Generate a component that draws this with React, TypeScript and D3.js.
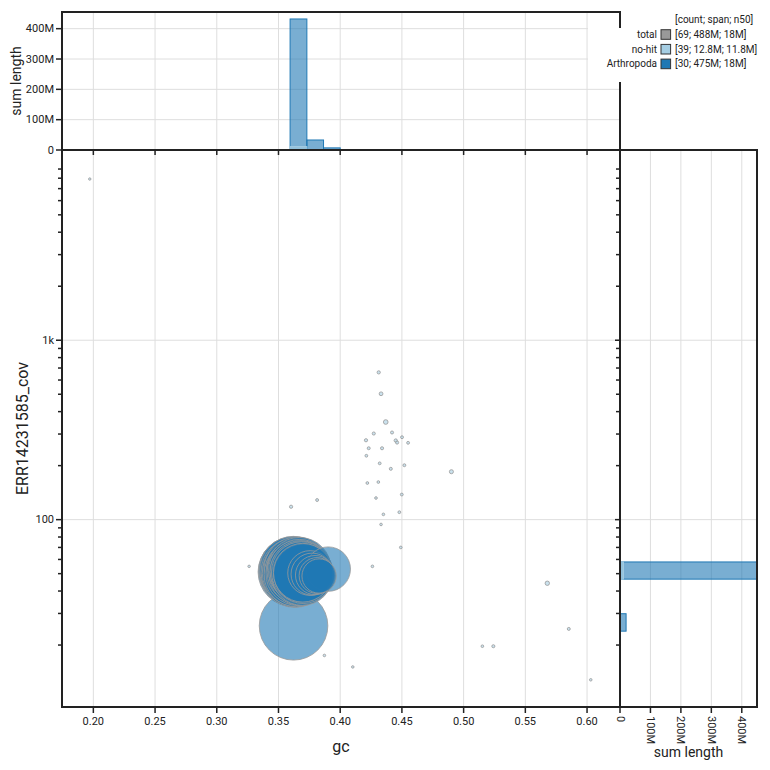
import React from "react";
import * as d3 from "d3";

const FONT = "Roboto, 'Noto Sans', sans-serif";

// Arthropoda contigs: gc, coverage, length (Mb)
const arthropodaGc = [
  0.3614, 0.3617, 0.3625, 0.3621, 0.3633, 0.3629, 0.3641, 0.3636, 0.3648, 0.3652, 0.3645, 0.3661,
  0.3657, 0.3669, 0.3664, 0.3678, 0.3672, 0.3684, 0.3681, 0.3693, 0.3688, 0.3702, 0.3697,
  0.3756, 0.3772, 0.3796, 0.3813, 0.3829, 0.3903, 0.3622,
];
const arthropodaCov = [
  51.1, 51.8, 50.6, 52.3, 49.9, 51.2, 51.5, 50.3, 52.6, 50.8, 49.5, 51.6,
  50.1, 52.9, 51.0, 49.8, 52.0, 50.7, 51.4, 49.2, 51.1, 50.0, 50.6,
  50.4, 49.7, 49.1, 48.8, 48.5, 53.0, 25.6,
];
const arthropodaLen = [
  20.2, 19.9, 19.7, 19.4, 19.2, 19.0, 18.7, 18.5, 18.3, 18.1, 17.8, 17.6,
  17.4, 17.2, 17.0, 16.8, 16.5, 16.3, 16.1, 15.8, 15.5, 15.1, 14.7,
  8.5, 7.5, 6.5, 5.5, 5.0, 8.4, 20.0,
];

// no-hit contigs: gc, coverage, length (Mb)
const noHitGc = [
  0.366, 0.4312, 0.4331, 0.4369, 0.4272, 0.442, 0.4209, 0.4501, 0.445, 0.4461, 0.455, 0.4231,
  0.4339, 0.4212, 0.432, 0.441, 0.452, 0.4901, 0.422, 0.4309, 0.429, 0.4499, 0.435, 0.4479,
  0.4331, 0.4491, 0.1971, 0.3602, 0.3813, 0.3262, 0.4261, 0.3872, 0.4102, 0.5678, 0.5152,
  0.5241, 0.5852, 0.603, 0.372,
];
const noHitCov = [
  51.0, 662, 503, 350, 302, 306, 277, 288, 276, 269, 268, 250,
  250, 227, 206, 192, 201, 185, 160, 162, 132, 138, 107, 110,
  94, 70, 7916, 118, 128.6, 54.9, 54.9, 17.5, 15.1, 44.2, 19.7,
  19.7, 24.6, 12.8, 50.0,
];
const noHitLen = [
  11.0, 0.045, 0.061, 0.092, 0.042, 0.04, 0.044, 0.036, 0.047, 0.043, 0.035, 0.038,
  0.041, 0.033, 0.034, 0.039, 0.036, 0.07, 0.032, 0.031, 0.03, 0.035, 0.03, 0.033,
  0.029, 0.031, 0.025, 0.044, 0.036, 0.027, 0.03, 0.028, 0.027, 0.082, 0.03,
  0.04, 0.038, 0.028, 0.03,
];

// gc histogram (sum length, Mb)
const gcBinEdges = [0.3594, 0.373, 0.3865, 0.4];
const arthropodaGcSum = [432, 33, 7];
const noHitGcSum = [11, 0, 0];

// coverage histogram (sum length, Mb)
const covBinLo = [23.9, 46.6];
const covBinHi = [29.9, 58.1];
const arthropodaCovSum = [20, 455];
const noHitCovSum = [0, 11];

const legendLabels = ["total", "no-hit", "Arthropoda"];
const legendStats = ["[69; 488M; 18M]", "[39; 12.8M; 11.8M]", "[30; 475M; 18M]"];
const legendColors = ["#999999", "#a6cee3", "#1f78b4"];

const histTicks = [0, 100, 200, 300, 400];

export default function App() {
  const L = 62, R = 620, T = 150, B = 707;
  const histTop = 12, sideRight = 757;

  const x = d3.scaleLinear().domain([0.1746, 0.6267]).range([L, R]);
  const y = d3.scaleLog().domain([9.03, 11490]).range([B, T]);
  const hy = d3.scaleLinear().domain([0, 455]).range([T, histTop]);
  const hx = d3.scaleLinear().domain([0, 450]).range([R, sideRight]);
  const rad = d3.scaleSqrt().domain([0, 20]).range([0, 34.3]);

  const xTicks = x.ticks(10);
  const yTicks = y.ticks().filter((v) => y(v) > T + 12 && y(v) < B - 12);
  const isMajor = (v: number) => Math.abs(Math.log10(v) - Math.round(Math.log10(v))) < 1e-9;
  const fmtCov = d3.format("~s");

  const noHit = noHitGc
    .map((gc, i) => ({ gc, cov: noHitCov[i], len: noHitLen[i] }))
    .sort((a, b) => b.len - a.len);
  const arthropoda = arthropodaGc
    .map((gc, i) => ({ gc, cov: arthropodaCov[i], len: arthropodaLen[i] }))
    .sort((a, b) => b.len - a.len);

  const frame = "#222";
  const grid = "#dedede";

  return (
    <svg width={770} height={770} style={{ position: "fixed", left: 0, top: 0 }} fontFamily={FONT}>
      <defs>
        <clipPath id="side-clip">
          <rect x={R} y={T} width={sideRight - R} height={B - T} />
        </clipPath>
      </defs>
      <rect width={770} height={770} fill="#fff" />

      {/* grid lines */}
      {xTicks.map((t) => (
        <line key={`gx${t}`} x1={x(t)} x2={x(t)} y1={histTop} y2={B} stroke={grid} />
      ))}
      {yTicks.filter(isMajor).map((t) => (
        <line key={`gy${t}`} x1={L} x2={sideRight} y1={y(t)} y2={y(t)} stroke={grid} />
      ))}
      {histTicks.slice(1).map((t) => (
        <g key={`gh${t}`}>
          <line x1={L} x2={R} y1={hy(t)} y2={hy(t)} stroke={grid} />
          <line x1={hx(t)} x2={hx(t)} y1={T} y2={B} stroke={grid} />
        </g>
      ))}

      {/* gc histogram */}
      {arthropodaGcSum.map((v, i) => (
        <rect key={`ga${i}`} x={x(gcBinEdges[i])} y={hy(v)} width={x(gcBinEdges[i + 1]) - x(gcBinEdges[i])}
          height={T - hy(v)} fill="#1f78b4" fillOpacity={0.6} stroke="#1f78b4" strokeWidth={1} />
      ))}
      {noHitGcSum.map((v, i) => v > 0 && (
        <rect key={`gn${i}`} x={x(gcBinEdges[i])} y={hy(v)} width={x(gcBinEdges[i + 1]) - x(gcBinEdges[i])}
          height={T - hy(v)} fill="#a6cee3" fillOpacity={0.6} stroke="#a6cee3" strokeWidth={1} />
      ))}

      {/* coverage histogram */}
      <g clipPath="url(#side-clip)">
        {arthropodaCovSum.map((v, i) => (
          <rect key={`ca${i}`} x={R} y={y(covBinHi[i])} width={hx(v) - R}
            height={y(covBinLo[i]) - y(covBinHi[i])} fill="#1f78b4" fillOpacity={0.6} stroke="#1f78b4" strokeWidth={1} />
        ))}
        {noHitCovSum.map((v, i) => v > 0 && (
          <rect key={`cn${i}`} x={R} y={y(covBinHi[i])} width={hx(v) - R}
            height={y(covBinLo[i]) - y(covBinHi[i])} fill="#a6cee3" fillOpacity={0.6} stroke="#a6cee3" strokeWidth={1} />
        ))}
      </g>

      {/* blob circles */}
      {noHit.map((d, i) => (
        <circle key={`n${i}`} cx={x(d.gc)} cy={y(d.cov)} r={rad(d.len)}
          fill="#a6cee3" fillOpacity={0.6} stroke="#999" strokeWidth={0.8} />
      ))}
      {arthropoda.map((d, i) => (
        <circle key={`a${i}`} cx={x(d.gc)} cy={y(d.cov)} r={rad(d.len)}
          fill="#1f78b4" fillOpacity={0.6} stroke="#999" strokeWidth={0.8} />
      ))}

      {/* frames */}
      <rect x={L} y={histTop} width={R - L} height={T - histTop} fill="none" stroke={frame} strokeWidth={2} />
      <rect x={R} y={T} width={sideRight - R} height={B - T} fill="none" stroke={frame} strokeWidth={2} />
      <rect x={L} y={T} width={R - L} height={B - T} fill="none" stroke={frame} strokeWidth={2} />

      {/* gc axis */}
      {xTicks.map((t) => (
        <g key={`xt${t}`}>
          <line x1={x(t)} x2={x(t)} y1={B} y2={B + 6} stroke={frame} strokeWidth={1.5} />
          <line x1={x(t)} x2={x(t)} y1={T} y2={T + 5} stroke={frame} strokeWidth={1.5} />
          <text x={x(t)} y={B + 18} textAnchor="middle" fontSize={11} fill="#222">{d3.format(".2f")(t)}</text>
        </g>
      ))}
      <text x={(L + R) / 2} y={752} textAnchor="middle" fontSize={16} fill="#222">gc</text>

      {/* coverage axis */}
      {yTicks.map((t) => {
        const major = isMajor(t);
        return (
          <g key={`yt${t}`}>
            <line x1={L - (major ? 6 : 4)} x2={L} y1={y(t)} y2={y(t)} stroke={frame} strokeWidth={1.5} />
            <line x1={R - (major ? 5 : 4)} x2={R} y1={y(t)} y2={y(t)} stroke={frame} strokeWidth={1.5} />
            {major && (
              <text x={L - 8} y={y(t)} textAnchor="end" dominantBaseline="central" fontSize={11} fill="#222">
                {fmtCov(t)}
              </text>
            )}
          </g>
        );
      })}
      <text transform={`translate(28, ${(T + B) / 2}) rotate(-90)`} textAnchor="middle" fontSize={16} fill="#222">
        ERR14231585_cov
      </text>

      {/* histogram axes */}
      {histTicks.map((t) => (
        <g key={`ht${t}`}>
          <line x1={L - 6} x2={L} y1={hy(t)} y2={hy(t)} stroke={frame} strokeWidth={1.5} />
          <text x={L - 8} y={hy(t)} textAnchor="end" dominantBaseline="central" fontSize={11} fill="#222">
            {t === 0 ? "0" : `${t}M`}
          </text>
          <line x1={hx(t)} x2={hx(t)} y1={B} y2={B + 6} stroke={frame} strokeWidth={1.5} />
          <text transform={`translate(${hx(t)}, ${B + 9}) rotate(90)`} textAnchor="start" dominantBaseline="central"
            fontSize={11} fill="#222">
            {t === 0 ? "0" : `${t}M`}
          </text>
        </g>
      ))}
      <text transform={`translate(21, ${(histTop + T) / 2}) rotate(-90)`} textAnchor="middle" fontSize={14} fill="#222">
        sum length
      </text>
      <text x={(R + sideRight) / 2} y={757} textAnchor="middle" fontSize={14} fill="#222">sum length</text>

      {/* legend */}
      <rect x={588} y={28} width={182} height={54} fill="#fff" />
      <text x={675} y={23} fontSize={10} fill="#222">[count; span; n50]</text>
      {legendLabels.map((lab, i) => {
        const cy = 34.5 + i * 14.7;
        return (
          <g key={lab}>
            <text x={657} y={cy} textAnchor="end" dominantBaseline="central" fontSize={10} fill="#222">{lab}</text>
            <rect x={661} y={cy - 4.8} width={9.6} height={9.6} fill={legendColors[i]} stroke="#333" strokeWidth={1} />
            <text x={675} y={cy} dominantBaseline="central" fontSize={10} fill="#222">{legendStats[i]}</text>
          </g>
        );
      })}
    </svg>
  );
}
